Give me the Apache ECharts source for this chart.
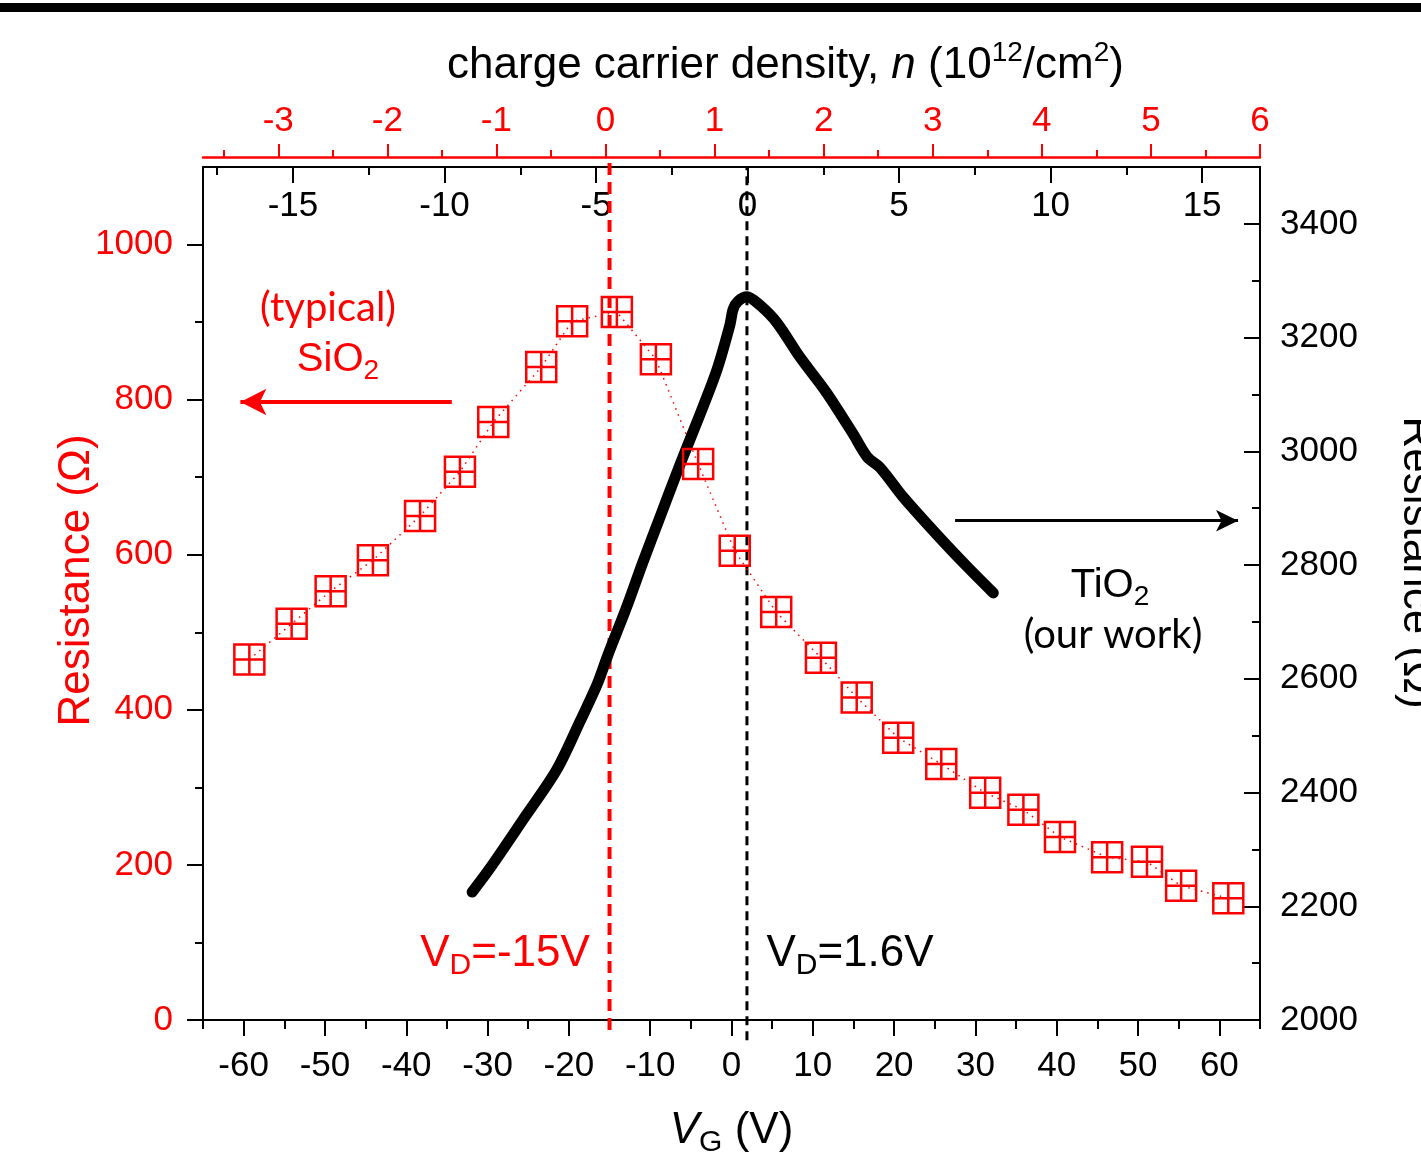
<!DOCTYPE html>
<html>
<head>
<meta charset="utf-8">
<script src="https://cdn.jsdelivr.net/npm/echarts@6/dist/echarts.min.js"></script>
<style>
  html, body { margin: 0; padding: 0; background: #fff; }
  #chart { width: 1421px; height: 1152px; }
</style>
</head>
<body>
<div id="chart"></div>
<script>
'use strict';

// SiO2 device (bottom V_G axis, left resistance axis)
const vgSiO2 = [-59.3, -54.1, -49.3, -44.1, -38.3, -33.4, -29.3, -23.4, -19.6, -14.1, -9.3, -4.1, 0.4,
  5.5, 11.0, 15.4, 20.5, 25.8, 31.2, 35.9, 40.4, 46.2, 51.1, 55.3, 61.1];
const rSiO2 = [465, 511, 553, 593, 650, 707, 771, 842, 901, 913, 852, 717, 605,
  526, 467, 416, 364, 330, 293, 271, 236, 210, 204, 173, 157];

// TiO2 device (bottom V_G axis, right resistance axis)
const vgTiO2 = [-31.9, -29.7, -25.6, -21.5, -18.6, -16.5, -15.2, -12.9, -10.9, -8.8, -6.3, -3.9, -1.8,
  -0.2, 0.2, 0.8, 1.9, 3.5, 5.6, 8.4, 11.7, 14.9, 16.7, 18.3, 21.1, 25.3, 29.0, 32.2];
const rTiO2 = [2225, 2267, 2353, 2440, 2526, 2591, 2642, 2726, 2805, 2884, 2978, 3064, 3143,
  3222, 3250, 3264, 3272, 3257, 3226, 3166, 3103, 3032, 2990, 2971, 2920, 2853, 2797, 2751];

// Dirac points and vertical extents of the dashed guides (left axis units)
const vdSiO2 = -15;
const vdTiO2 = 1.9;
const vdSiO2Span = [-13, 1113];
const vdTiO2Span = [-26, 1100];

// arrows: [from, to] on V_G, and the resistance level
const arrowSiO2X = [-34.4, -60.4];
const arrowSiO2Y = 797;
const arrowTiO2X = [27.5, 62.3];
const arrowTiO2Y = 2878;

// ticks
const vgMajor = [-60, -50, -40, -30, -20, -10, 0, 10, 20, 30, 40, 50, 60];
const vgMinor = [-65, -55, -45, -35, -25, -15, -5, 5, 15, 25, 35, 45, 55, 65];
const innerMajor = [-15, -10, -5, 0, 5, 10, 15];
const innerMinor = [-17.5, -12.5, -7.5, -2.5, 2.5, 7.5, 12.5];
const nMajor = [-3, -2, -1, 0, 1, 2, 3, 4, 5, 6];
const nMinor = [-3.5, -2.5, -1.5, -0.5, 0.5, 1.5, 2.5, 3.5, 4.5, 5.5];
const rLeftMajor = [0, 200, 400, 600, 800, 1000];
const rLeftMinor = [100, 300, 500, 700, 900];
const rRightMajor = [2000, 2200, 2400, 2600, 2800, 3000, 3200, 3400];
const rRightMinor = [2100, 2300, 2500, 2700, 2900, 3100, 3300];

const RED = '#ff0000';
const FONT = 'Liberation Sans';
const LABEL_SIZE = 35;

function plain(v) {
  return String(v);
}

function minorAxis(base, values, len, color, inside) {
  return Object.assign({
    type: 'value',
    axisLine: { show: false, onZero: false },
    axisTick: { customValues: values, length: len, inside: !!inside, lineStyle: { color: color, width: 2 } },
    axisLabel: { show: false },
    splitLine: { show: false }
  }, base);
}

const chart = echarts.init(document.getElementById('chart'), null, { renderer: 'canvas' });

const option = {
  animation: false,
  backgroundColor: '#fff',
  grid: { left: 203, top: 167, width: 1057, height: 853, containLabel: false, outerBoundsMode: 'none' },
  xAxis: [
    {
      type: 'value', position: 'bottom', min: -65, max: 65,
      axisLine: { onZero: false, lineStyle: { color: '#000', width: 2 } },
      axisTick: { customValues: vgMajor, length: 16, lineStyle: { color: '#000', width: 2 } },
      axisLabel: { customValues: vgMajor, formatter: plain, fontSize: LABEL_SIZE, fontFamily: FONT, color: '#000', margin: 29 },
      splitLine: { show: false },
      name: '{i|V}{sub|G}{t| (V)}',
      nameLocation: 'middle', nameGap: 84,
      nameTextStyle: {
        rich: {
          i: { fontSize: 44, fontFamily: FONT, fontStyle: 'italic', color: '#000', lineHeight: 54 },
          sub: { fontSize: 30, fontFamily: FONT, color: '#000', lineHeight: 26, verticalAlign: 'bottom' },
          t: { fontSize: 44, fontFamily: FONT, color: '#000', lineHeight: 54 }
        }
      }
    },
    minorAxis({ position: 'bottom', min: -65, max: 65 }, vgMinor, 9, '#000'),
    {
      type: 'value', position: 'top', min: -17.97, max: 16.91,
      axisLine: { onZero: false, lineStyle: { color: '#000', width: 2 } },
      axisTick: { customValues: innerMajor, inside: true, length: 16, lineStyle: { color: '#000', width: 2 } },
      axisLabel: { customValues: innerMajor, formatter: plain, inside: true, fontSize: LABEL_SIZE, fontFamily: FONT, color: '#000', margin: 22 },
      splitLine: { show: false }
    },
    minorAxis({ position: 'top', min: -17.97, max: 16.91 }, innerMinor, 8, '#000', true),
    {
      type: 'value', position: 'top', offset: 10, min: -3.69, max: 6,
      axisLine: { onZero: false, lineStyle: { color: RED, width: 2.5 } },
      axisTick: { customValues: nMajor, length: 13, lineStyle: { color: RED, width: 2 } },
      axisLabel: { customValues: nMajor, formatter: plain, fontSize: LABEL_SIZE, fontFamily: FONT, color: RED, margin: 18 },
      splitLine: { show: false },
      name: '{t|charge carrier density, }{i|n}{t| (10}{sup|12}{t|/cm}{sup|2}{t|)}',
      nameLocation: 'middle', nameGap: 64,
      nameTextStyle: {
        padding: [0, 0, 0, 108],
        rich: {
          t: { fontSize: 44, fontFamily: FONT, color: '#000', lineHeight: 54 },
          i: { fontSize: 44, fontFamily: FONT, fontStyle: 'italic', color: '#000', lineHeight: 54 },
          sup: { fontSize: 28, fontFamily: FONT, color: '#000', lineHeight: 28, verticalAlign: 'top' }
        }
      }
    },
    minorAxis({ position: 'top', offset: 10, min: -3.69, max: 6 }, nMinor, 7, RED)
  ],
  yAxis: [
    {
      type: 'value', position: 'left', min: 0, max: 1100,
      axisLine: { onZero: false, lineStyle: { color: '#000', width: 2 } },
      axisTick: { customValues: rLeftMajor, length: 16, lineStyle: { color: '#000', width: 2 } },
      axisLabel: { customValues: rLeftMajor, formatter: plain, fontSize: LABEL_SIZE, fontFamily: FONT, color: RED, margin: 30 },
      splitLine: { show: false },
      name: 'Resistance (Ω)',
      nameLocation: 'middle', nameGap: 104, nameMoveOverlap: false,
      nameTextStyle: { fontSize: 44, fontFamily: FONT, color: RED, padding: [0, 0, 0, 26] }
    },
    minorAxis({ position: 'left', min: 0, max: 1100 }, rLeftMinor, 8, '#000'),
    {
      type: 'value', position: 'right', min: 2000, max: 3500,
      axisLine: { onZero: false, lineStyle: { color: '#000', width: 2 } },
      axisTick: { customValues: rRightMajor, inside: true, length: 16, lineStyle: { color: '#000', width: 2 } },
      axisLabel: { customValues: rRightMajor, formatter: plain, fontSize: LABEL_SIZE, fontFamily: FONT, color: '#000', margin: 20 },
      splitLine: { show: false },
      name: 'Resistance (Ω)',
      nameLocation: 'middle', nameGap: 134, nameRotate: -90,
      nameTextStyle: { fontSize: 44, fontFamily: FONT, color: '#000', padding: [0, 62, 0, 0] }
    },
    minorAxis({ position: 'right', min: 2000, max: 3500 }, rRightMinor, 8, '#000', true)
  ],
  series: [
    {
      name: 'VD SiO2', type: 'line', xAxisIndex: 0, yAxisIndex: 0, clip: false,
      symbol: 'none', silent: true,
      lineStyle: { color: RED, width: 4, type: [12, 7] },
      data: vdSiO2Span.map(function (r) { return [vdSiO2, r]; })
    },
    {
      name: 'VD TiO2', type: 'line', xAxisIndex: 0, yAxisIndex: 0, clip: false,
      symbol: 'none', silent: true,
      lineStyle: { color: '#000', width: 3, type: [9, 6] },
      data: vdTiO2Span.map(function (r) { return [vdTiO2, r]; })
    },
    {
      name: 'SiO2', type: 'line', xAxisIndex: 0, yAxisIndex: 0,
      symbol: 'path://M0,0L10,0L10,10L0,10Z M5,0L5,10 M0,5L10,5',
      symbolSize: 30, showAllSymbol: true,
      itemStyle: { color: 'rgba(0,0,0,0)', borderColor: RED, borderWidth: 2.5 },
      lineStyle: { color: RED, width: 1.5, type: [1.5, 5] },
      data: vgSiO2.map(function (v, i) { return [v, rSiO2[i]]; }),
      markLine: {
        silent: true, symbol: ['none', 'arrow'], symbolSize: [20, 26],
        label: { show: false },
        lineStyle: { color: RED, width: 4, type: 'solid' },
        data: [[{ coord: [arrowSiO2X[0], arrowSiO2Y] }, { coord: [arrowSiO2X[1], arrowSiO2Y] }]]
      }
    },
    {
      name: 'TiO2', type: 'line', xAxisIndex: 0, yAxisIndex: 2,
      symbol: 'none', smooth: 0.3,
      lineStyle: { color: '#000', width: 11, cap: 'round', join: 'round' },
      data: vgTiO2.map(function (v, i) { return [v, rTiO2[i]]; }),
      markLine: {
        silent: true, symbol: ['none', 'arrow'], symbolSize: [16, 22],
        label: { show: false },
        lineStyle: { color: '#000', width: 3, type: 'solid' },
        data: [[{ coord: [arrowTiO2X[0], arrowTiO2Y] }, { coord: [arrowTiO2X[1], arrowTiO2Y] }]]
      }
    }
  ],
  graphic: [
    { type: 'rect', shape: { x: 0, y: 3, width: 1421, height: 9 }, style: { fill: '#000' } },
    {
      type: 'text', x: 328, y: 308,
      style: { text: '(typical)', fill: RED, fontSize: 40, fontFamily: 'Lato', align: 'center', verticalAlign: 'middle' }
    },
    {
      type: 'text', x: 338, y: 360,
      style: {
        text: '{t|SiO}{s|2}', align: 'center', verticalAlign: 'middle',
        rich: {
          t: { fill: RED, fontSize: 40, fontFamily: FONT, lineHeight: 50 },
          s: { fill: RED, fontSize: 28, fontFamily: FONT, lineHeight: 24, verticalAlign: 'bottom' }
        }
      }
    },
    {
      type: 'text', x: 1110, y: 586,
      style: {
        text: '{t|TiO}{s|2}', align: 'center', verticalAlign: 'middle',
        rich: {
          t: { fill: '#000', fontSize: 40, fontFamily: FONT, lineHeight: 50 },
          s: { fill: '#000', fontSize: 28, fontFamily: FONT, lineHeight: 24, verticalAlign: 'bottom' }
        }
      }
    },
    {
      type: 'text', x: 1113, y: 635,
      style: { text: '(our work)', fill: '#000', fontSize: 40, fontFamily: 'Lato', align: 'center', verticalAlign: 'middle' }
    },
    {
      type: 'text', x: 505, y: 954,
      style: {
        text: '{t|V}{s|D}{t|=-15V}', align: 'center', verticalAlign: 'middle',
        rich: {
          t: { fill: RED, fontSize: 44, fontFamily: FONT, lineHeight: 54 },
          s: { fill: RED, fontSize: 30, fontFamily: FONT, lineHeight: 26, verticalAlign: 'bottom' }
        }
      }
    },
    {
      type: 'text', x: 850, y: 954,
      style: {
        text: '{t|V}{s|D}{t|=1.6V}', align: 'center', verticalAlign: 'middle',
        rich: {
          t: { fill: '#000', fontSize: 44, fontFamily: FONT, lineHeight: 54 },
          s: { fill: '#000', fontSize: 30, fontFamily: FONT, lineHeight: 26, verticalAlign: 'bottom' }
        }
      }
    }
  ]
};

chart.setOption(option);
</script>
</body>
</html>
